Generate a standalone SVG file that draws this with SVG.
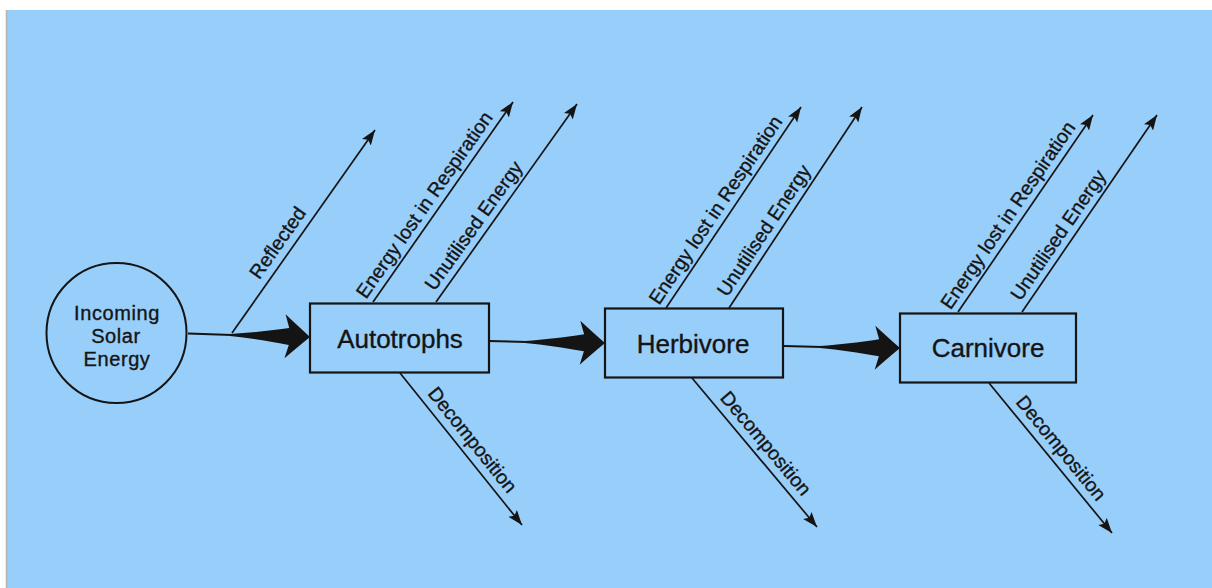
<svg xmlns="http://www.w3.org/2000/svg" xmlns:xlink="http://www.w3.org/1999/xlink" width="1212" height="588" viewBox="0 0 1212 588">
<style>
text{font-family:"Liberation Sans",Arial,Helvetica,sans-serif;fill:#141414;stroke:#141414;stroke-width:0.35;text-anchor:middle}
.lbl{font-size:19.5px}
.big{font-size:26px}
.sun{font-size:20px;letter-spacing:0.6px}
.box{fill:none;stroke:#141414;stroke-width:2.2}
.ln{fill:none;stroke:#141414;stroke-width:1.7;marker-end:url(#ah)}
.thin{fill:none;stroke:#141414;stroke-width:2}
.fat{fill:#141414}
</style>
<defs>
<marker id="ah" markerUnits="userSpaceOnUse" markerWidth="16" markerHeight="12" refX="15" refY="5.5" orient="auto" viewBox="0 0 16 12">
<path d="M0,0 L15,5.5 L0,11 L3,5.5 Z" fill="#141414"/>
</marker>
<path id="fat" d="M-80,-1 C-60,-2.5 -42,-5 -21,-8.5 L-25,-22 Q-14,-12 0,0 Q-14,12 -25,22 L-21,8.5 C-42,5 -60,2.5 -80,1 Z"/>
</defs>
<rect x="0" y="0" width="1212" height="588" fill="#ffffff"/>
<rect x="7" y="10" width="1205" height="578" fill="#98cefa"/>
<line x1="6.5" y1="10" x2="6.5" y2="588" stroke="#b4b4b4" stroke-width="1.5"/>

<g id="connectors">
  <line class="thin" x1="188" y1="333.5" x2="232" y2="335"/>
  <use href="#fat" class="fat" transform="translate(310,337) rotate(1.5)"/>
  <line class="thin" x1="489" y1="341" x2="527" y2="342"/>
  <use href="#fat" class="fat" transform="translate(605,343) rotate(0.8)"/>
  <line class="thin" x1="784" y1="346" x2="822" y2="347"/>
  <use href="#fat" class="fat" transform="translate(900,348) rotate(0.8)"/>
  <line class="ln" x1="232" y1="333" x2="375" y2="130"/>
  <line class="ln" x1="373" y1="302" x2="513" y2="102"/>
  <line class="ln" x1="436" y1="302" x2="577" y2="104"/>
  <line class="ln" x1="400" y1="373" x2="522" y2="525"/>
  <line class="ln" x1="666" y1="308" x2="801" y2="107"/>
  <line class="ln" x1="729" y1="308" x2="862" y2="107"/>
  <line class="ln" x1="692" y1="378" x2="817" y2="527"/>
  <line class="ln" x1="958" y1="312" x2="1093" y2="115"/>
  <line class="ln" x1="1022" y1="312" x2="1157" y2="115"/>
  <line class="ln" x1="989" y1="383" x2="1112" y2="533"/>
  <text class="lbl" transform="translate(283.1,246.6) rotate(-54.8)">Reflected</text>
  <text class="lbl" transform="translate(429.8,208.7) rotate(-55)">Energy lost in Respiration</text>
  <text class="lbl" transform="translate(479,229.5) rotate(-54.5)">Unutilised Energy</text>
  <text class="lbl" transform="translate(467.3,444) rotate(51.25)">Decomposition</text>
  <text class="lbl" transform="translate(721,213.6) rotate(-56.1)">Energy lost in Respiration</text>
  <text class="lbl" transform="translate(769.5,234.1) rotate(-56.5)">Unutilised Energy</text>
  <text class="lbl" transform="translate(760.8,447.6) rotate(50)">Decomposition</text>
  <text class="lbl" transform="translate(1013.3,218.9) rotate(-55.6)">Energy lost in Respiration</text>
  <text class="lbl" transform="translate(1063.7,238.7) rotate(-55.6)">Unutilised Energy</text>
  <text class="lbl" transform="translate(1056,452.2) rotate(50.65)">Decomposition</text>
</g>

<g id="sun">
  <circle cx="116.5" cy="333" r="70" fill="none" stroke="#141414" stroke-width="2"/>
  <text class="sun" x="117" y="319.5">Incoming</text>
  <text class="sun" x="116" y="342.5">Solar</text>
  <text class="sun" x="117" y="365.5">Energy</text>
</g>
<g id="autotrophs">
  <rect class="box" x="310" y="303.5" width="179" height="69"/>
  <text class="big" x="400" y="348">Autotrophs</text>
</g>
<g id="herbivore">
  <rect class="box" x="605" y="308.5" width="178" height="69"/>
  <text class="big" x="693" y="353">Herbivore</text>
</g>
<g id="carnivore">
  <rect class="box" x="900" y="313.5" width="176" height="69"/>
  <text class="big" x="988" y="357">Carnivore</text>
</g>
</svg>
